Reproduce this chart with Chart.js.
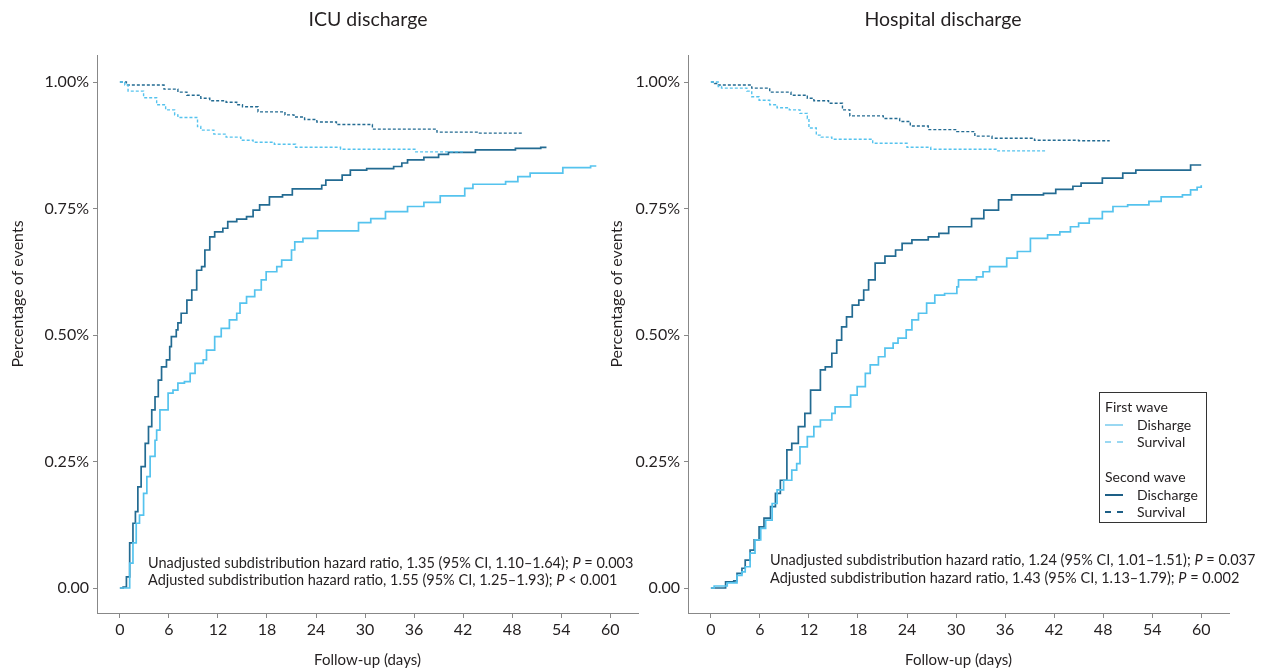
<!DOCTYPE html>
<html>
<head>
<meta charset="utf-8">
<script src="https://cdn.jsdelivr.net/npm/chart.js@4.4.1/dist/chart.umd.min.js"></script>
<style>
body { margin: 0; background: #fff; font-family: Lato, sans-serif; color: #231f20; }
#wrap { position: relative; width: 1265px; height: 671px; overflow: hidden; }
.panel { position: absolute; top: 0; }
#leftBox { left: 0; }
#rightBox { left: 600px; }
.note { position: absolute; font-size: 14.5px; line-height: 17px; white-space: nowrap; }
#legend { position: absolute; left: 1099px; top: 392px; width: 108px; height: 131px; border: 1.3px solid #333; font-size: 14px; padding-top: 5px; box-sizing: border-box; }
#legend .row { height: 17.5px; line-height: 17.5px; position: relative; }
#legend .head { padding-left: 5px; }
#legend .item span.txt { position: absolute; left: 37px; }
#legend .item span.swatch { position: absolute; left: 5px; top: 8px; width: 18px; height: 0; border-top-width: 2.5px; }
</style>
</head>
<body>
<div id="wrap">
  <div class="panel" id="leftBox"><canvas id="icuChart" width="645" height="671"></canvas></div>
  <div class="panel" id="rightBox"><canvas id="hospChart" width="665" height="671"></canvas></div>

  <div class="note" style="left:148px; top:554px;">Unadjusted subdistribution hazard ratio, 1.35 (95% CI, 1.10–1.64); <i>P</i> = 0.003<br>Adjusted subdistribution hazard ratio, 1.55 (95% CI, 1.25–1.93); <i>P</i> &lt; 0.001</div>
  <div class="note" style="left:770px; top:551px; line-height:18px;">Unadjusted subdistribution hazard ratio, 1.24 (95% CI, 1.01–1.51); <i>P</i> = 0.037<br>Adjusted subdistribution hazard ratio, 1.43 (95% CI, 1.13–1.79); <i>P</i> = 0.002</div>

  <div id="legend">
    <div class="row head">First wave</div>
    <div class="row item"><span class="swatch" style="border-top-style:solid;border-top-color:#9ad8f2"></span><span class="txt">Disharge</span></div>
    <div class="row item"><span class="swatch" style="border-top-style:dashed;border-top-color:#9ad8f2"></span><span class="txt">Survival</span></div>
    <div class="row"></div>
    <div class="row head">Second wave</div>
    <div class="row item"><span class="swatch" style="border-top-style:solid;border-top-color:#1d5f86"></span><span class="txt">Discharge</span></div>
    <div class="row item"><span class="swatch" style="border-top-style:dashed;border-top-color:#1d5f86"></span><span class="txt">Survival</span></div>
  </div>
</div>

<script>
// tick positions and labels
var xTicks = [0, 6, 12, 18, 24, 30, 36, 42, 48, 54, 60];
var yTicks = [0, 0.25, 0.5, 0.75, 1];
var yTickLabels = ['0.00', '0.25%', '0.50%', '0.75%', '1.00%'];

// [day, cumulative proportion]
var icuWave1Discharge = [[0,0],[0.7,0],[1.2,0.049],[1.6,0.089],[2.0,0.128],[2.4,0.144],[2.9,0.187],[3.3,0.220],[3.7,0.260],[4.3,0.292],[4.5,0.312],[4.9,0.352],[5.9,0.385],[6.5,0.391],[7.1,0.405],[7.9,0.408],[8.6,0.424],[9.2,0.444],[10.2,0.451],[10.6,0.470],[11.6,0.497],[12.4,0.513],[13.4,0.530],[14.3,0.543],[14.7,0.563],[15.5,0.576],[16.5,0.589],[17.3,0.609],[17.9,0.625],[19.2,0.635],[19.8,0.648],[21.0,0.668],[21.4,0.684],[22.4,0.691],[24.2,0.706],[29.2,0.722],[30.7,0.730],[32.5,0.744],[35.2,0.754],[37.2,0.762],[39.2,0.775],[42.2,0.790],[43.2,0.798],[47.2,0.803],[48.7,0.813],[50.2,0.820],[54.2,0.831],[57.6,0.834],[58.3,0.834]];
var icuWave2Discharge = [[0,0],[0.4,0.002],[0.8,0.022],[1.2,0.089],[1.6,0.128],[1.9,0.151],[2.2,0.200],[2.6,0.240],[3.1,0.286],[3.5,0.319],[3.9,0.352],[4.3,0.378],[4.7,0.411],[5.1,0.437],[5.7,0.451],[6.1,0.477],[6.3,0.497],[6.9,0.510],[7.1,0.524],[7.5,0.543],[8.2,0.569],[8.8,0.589],[9.4,0.628],[10.0,0.635],[10.4,0.668],[11.0,0.694],[11.6,0.704],[12.6,0.711],[13.2,0.724],[14.3,0.729],[15.5,0.734],[16.3,0.747],[17.1,0.757],[18.3,0.773],[19.9,0.777],[21.1,0.789],[24.7,0.796],[25.2,0.806],[27.2,0.816],[28.2,0.826],[30.2,0.829],[33.5,0.833],[34.5,0.840],[35.2,0.846],[37.2,0.851],[39.0,0.857],[40.2,0.861],[43.5,0.866],[48.4,0.869],[51.5,0.871],[52.2,0.871]];
var icuWave1Survival = [[0,1],[0.6,0.994],[1.0,0.982],[2.9,0.969],[4.5,0.955],[5.6,0.945],[6.7,0.935],[7.1,0.930],[9.5,0.912],[9.9,0.905],[11.5,0.897],[13.0,0.891],[14.8,0.885],[16.3,0.881],[18.9,0.877],[21.5,0.871],[27.0,0.867],[36.1,0.862],[42.0,0.862]];
var icuWave2Survival = [[0,1],[0.8,0.994],[5.4,0.986],[7.1,0.980],[8.2,0.974],[9.9,0.968],[11.0,0.963],[13.0,0.960],[14.3,0.955],[15.0,0.951],[16.9,0.941],[20.2,0.935],[21.3,0.931],[22.6,0.926],[24.1,0.921],[26.5,0.916],[30.9,0.907],[38.8,0.901],[44.0,0.899],[49.3,0.899]];

var hospWave1Discharge = [[0,0],[0.4,0.004],[2.0,0.010],[3.2,0.025],[3.8,0.032],[4.2,0.042],[4.8,0.069],[5.4,0.095],[6.1,0.118],[6.7,0.134],[7.5,0.167],[8.1,0.194],[8.9,0.213],[9.9,0.233],[10.5,0.246],[10.9,0.279],[11.8,0.299],[12.6,0.319],[13.4,0.332],[14.8,0.345],[15.2,0.358],[17.1,0.381],[17.9,0.398],[18.9,0.424],[19.5,0.441],[20.5,0.457],[21.3,0.474],[22.3,0.484],[22.9,0.494],[23.9,0.510],[24.6,0.530],[25.4,0.543],[26.4,0.563],[27.4,0.579],[28.6,0.582],[30.1,0.595],[30.3,0.609],[32.5,0.615],[33.3,0.625],[34.1,0.635],[36.2,0.652],[37.5,0.665],[39.1,0.691],[41.2,0.698],[42.7,0.704],[44.0,0.714],[45.0,0.721],[46.3,0.730],[47.9,0.744],[49.2,0.754],[51.0,0.757],[53.6,0.764],[55.1,0.773],[57.7,0.777],[58.7,0.787],[59.5,0.792],[60.0,0.796]];
var hospWave2Discharge = [[0,0],[1.8,0.012],[2.8,0.014],[3.2,0.029],[3.8,0.039],[4.2,0.055],[4.8,0.075],[5.3,0.095],[5.9,0.121],[6.5,0.138],[7.3,0.161],[7.9,0.187],[8.5,0.213],[9.3,0.273],[9.9,0.286],[10.7,0.319],[11.5,0.345],[12.2,0.391],[13.4,0.431],[14.0,0.437],[14.8,0.464],[15.4,0.490],[16.0,0.516],[16.6,0.536],[17.3,0.559],[18.1,0.569],[18.7,0.589],[19.3,0.609],[20.1,0.642],[21.3,0.656],[22.6,0.668],[23.4,0.681],[24.6,0.688],[26.6,0.694],[27.9,0.701],[29.1,0.714],[31.9,0.730],[33.4,0.747],[35.2,0.767],[36.8,0.777],[40.7,0.780],[42.2,0.788],[44.3,0.794],[45.3,0.800],[47.9,0.810],[50.4,0.820],[52.0,0.826],[58.7,0.836],[60.0,0.836]];
var hospWave1Survival = [[0,1],[0.9,0.991],[1.3,0.988],[4.4,0.982],[5.0,0.971],[5.9,0.964],[7.2,0.955],[8.1,0.949],[9.6,0.945],[10.9,0.938],[11.8,0.928],[12.0,0.909],[12.9,0.895],[13.5,0.891],[14.8,0.887],[19.8,0.879],[24.0,0.871],[26.9,0.867],[35.0,0.864],[41.0,0.864]];
var hospWave2Survival = [[0,1],[0.45,0.997],[0.7,0.994],[5.0,0.988],[7.2,0.980],[9.8,0.974],[11.8,0.968],[12.6,0.963],[14.4,0.958],[16.1,0.945],[17.0,0.933],[21.1,0.928],[23.1,0.922],[24.4,0.913],[26.6,0.906],[30.1,0.902],[32.3,0.893],[34.4,0.889],[39.6,0.885],[45.0,0.884],[48.8,0.884]];

var lightBlue = '#55c3ee';
var darkBlue = '#236b92';
var textColor = '#231f20';

function toPoints(arr) {
    return arr.map(function (p) { return { x: p[0], y: p[1] }; });
}

function makeSet(label, arr, color, dashed) {
    return {
        label: label,
        data: toPoints(arr),
        borderColor: color,
        borderWidth: dashed ? 1.4 : 1.7,
        borderDash: dashed ? [3, 2] : [],
        stepped: true,
        pointRadius: 0,
        fill: false
    };
}

// panel title and rotated y axis title at fixed spots
var labelsPlugin = {
    id: 'panelLabels',
    afterDraw: function (chart, args, opts) {
        var ctx = chart.ctx;
        ctx.save();
        ctx.fillStyle = textColor;
        ctx.textAlign = 'center';
        ctx.textBaseline = 'middle';
        ctx.font = '19.5px Lato';
        ctx.fillText(opts.title, opts.titleX, 20);
        ctx.translate(opts.yTitleX, 294);
        ctx.rotate(-Math.PI / 2);
        ctx.font = '16px Lato';
        ctx.fillText('Percentage of events', 0, 0);
        ctx.restore();
    }
};

function makeChart(canvasId, title, titleX, sets, yAxisWidth, padRight, yTitleX) {
    var ctx = document.getElementById(canvasId).getContext('2d');
    return new Chart(ctx, {
        type: 'line',
        data: { datasets: sets },
        plugins: [labelsPlugin],
        options: {
            responsive: false,
            animation: false,
            layout: { padding: { left: 0, right: padRight, top: 55, bottom: 0 } },
            scales: {
                x: {
                    type: 'linear',
                    min: -2.8,
                    max: 63.4,
                    afterBuildTicks: function (scale) {
                        scale.ticks = xTicks.map(function (v) { return { value: v }; });
                    },
                    afterFit: function (scale) { scale.height = 58; },
                    ticks: {
                        color: textColor,
                        font: { family: 'Lato', size: 16 },
                        padding: 2,
                        maxRotation: 0,
                        autoSkip: false
                    },
                    grid: { drawOnChartArea: false, drawTicks: true, tickLength: 5, color: '#888' },
                    border: { display: true, color: '#888', width: 1 },
                    title: {
                        display: true,
                        text: 'Follow-up (days)',
                        color: textColor,
                        font: { family: 'Lato', size: 15 },
                        padding: { top: 0, bottom: 2 }
                    }
                },
                y: {
                    type: 'linear',
                    min: -0.0494,
                    max: 1.0534,
                    afterBuildTicks: function (scale) {
                        scale.ticks = yTicks.map(function (v) { return { value: v }; });
                    },
                    afterFit: function (scale) { scale.width = yAxisWidth; },
                    ticks: {
                        color: textColor,
                        font: { family: 'Lato', size: 16 },
                        padding: 4,
                        callback: function (value) {
                            var i = yTicks.indexOf(value);
                            return i >= 0 ? yTickLabels[i] : '';
                        }
                    },
                    grid: { drawOnChartArea: false, drawTicks: true, tickLength: 4, color: '#888' },
                    border: { display: true, color: '#888', width: 1 }
                }
            },
            plugins: {
                legend: { display: false },
                tooltip: { enabled: false },
                title: { display: false },
                panelLabels: { title: title, titleX: titleX, yTitleX: yTitleX }
            }
        }
    });
}

var icuChart = makeChart('icuChart', 'ICU discharge', 368, [
    makeSet('First wave survival', icuWave1Survival, lightBlue, true),
    makeSet('Second wave survival', icuWave2Survival, darkBlue, true),
    makeSet('First wave discharge', icuWave1Discharge, lightBlue, false),
    makeSet('Second wave discharge', icuWave2Discharge, darkBlue, false)
], 97, 7, 18);

var hospChart = makeChart('hospChart', 'Hospital discharge', 343, [
    makeSet('First wave survival', hospWave1Survival, lightBlue, true),
    makeSet('Second wave survival', hospWave2Survival, darkBlue, true),
    makeSet('First wave discharge', hospWave1Discharge, lightBlue, false),
    makeSet('Second wave discharge', hospWave2Discharge, darkBlue, false)
], 88, 36, 17);
</script>
</body>
</html>
